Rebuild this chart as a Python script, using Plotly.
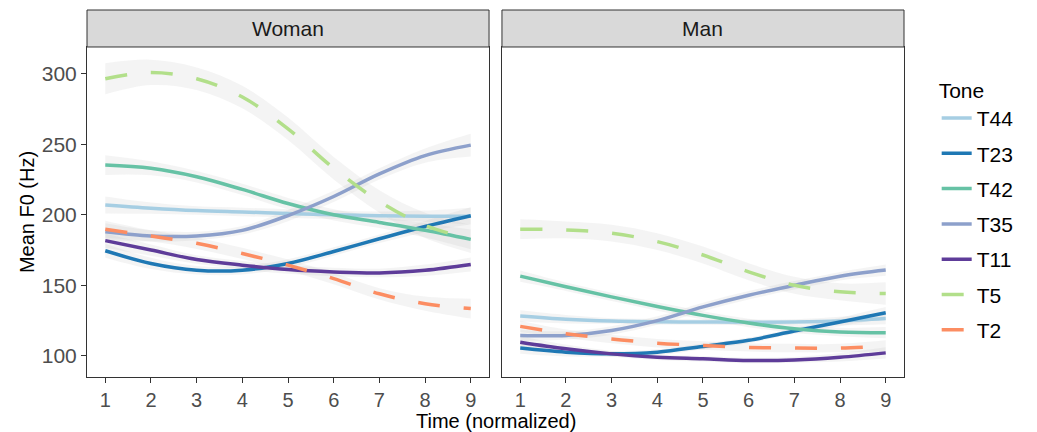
import plotly.graph_objects as go

# ---------------- data ----------------
time = [1, 2, 3, 4, 5, 6, 7, 8, 9]
tones = ["T44", "T23", "T42", "T35", "T11", "T5", "T2"]
facets = ["Woman", "Man"]
y_ticks = [100, 150, 200, 250, 300]

woman_T44 = [207, 204.7, 203, 202, 201, 200, 199.3, 199, 199]
woman_T23 = [174.5, 165.5, 160.7, 160.7, 165.5, 174, 183, 191.7, 199.3]
woman_T42 = [235.3, 233, 227, 218, 208, 200, 194.6, 189, 182.6]
woman_T35 = [188, 185, 185, 189, 199.5, 213, 229, 242, 249.4]
woman_T11 = [181.7, 175, 168.3, 164.3, 161.2, 159.5, 158.8, 160.7, 164.8]
woman_T5 = [296.5, 301, 296.5, 283.5, 261, 233, 209.5, 192.5, 183]
woman_T2 = [189.8, 185, 179.8, 172.6, 164.3, 154.8, 144, 137, 133.5]

man_T44 = [128.3, 126, 124.7, 124.2, 124, 123.8, 124, 124.7, 126.4]
man_T23 = [105.5, 102.6, 101.4, 102.6, 106.7, 111, 117.6, 124, 130.6]
man_T42 = [156.5, 149, 141.8, 135, 128.7, 123.3, 119.2, 116.9, 116.4]
man_T35 = [114.5, 114.5, 118, 125, 134.7, 143, 150, 156.5, 160.8]
man_T11 = [109.7, 105, 101.4, 99, 97.9, 96.7, 97.1, 99, 102.1]
man_T5 = [189.8, 189.3, 187, 181, 171.5, 159.6, 150, 145.4, 144.2]
man_T2 = [120.9, 115.7, 112, 109, 107.4, 106, 105.5, 105.5, 107]

# confidence half-widths (Hz)
woman_ci_T44 = [6, 4, 3, 3, 3, 3, 3, 4, 6]
woman_ci_T23 = [5, 4, 3, 3, 3, 3, 3, 4, 6]
woman_ci_T42 = [7, 5, 4, 4, 4, 4, 4, 5, 7]
woman_ci_T35 = [6, 4, 3, 3, 4, 4, 4, 5, 8]
woman_ci_T11 = [5, 4, 3, 3, 3, 3, 3, 4, 5]
woman_ci_T5 = [11, 9, 8, 8, 8, 8, 8, 9, 10]
woman_ci_T2 = [6, 4, 4, 4, 4, 4, 4, 5, 7]

man_ci_T44 = [4, 3, 2, 2, 2, 2, 2, 3, 4]
man_ci_T23 = [4, 3, 2, 2, 2, 2, 2, 3, 4]
man_ci_T42 = [4, 3, 3, 3, 3, 3, 3, 3, 4]
man_ci_T35 = [4, 3, 3, 3, 3, 3, 3, 3, 4]
man_ci_T11 = [4, 3, 2, 2, 2, 2, 2, 3, 4]
man_ci_T5 = [7, 6, 6, 6, 6, 6, 6, 6, 8]
man_ci_T2 = [4, 3, 3, 3, 3, 3, 3, 3, 4]

# ---------------- styles ----------------
colors = {"T44": "#a6cee3", "T23": "#1f78b4", "T42": "#66c2a5", "T35": "#8da0cb",
          "T11": "#5e3c99", "T5": "#b2df8a", "T2": "#fc8d62"}
dashes = {"T5": "22px,24px", "T2": "22px,24px"}

series = {
    "Woman": {"T44": (woman_T44, woman_ci_T44), "T23": (woman_T23, woman_ci_T23),
              "T42": (woman_T42, woman_ci_T42), "T35": (woman_T35, woman_ci_T35),
              "T11": (woman_T11, woman_ci_T11), "T5": (woman_T5, woman_ci_T5),
              "T2": (woman_T2, woman_ci_T2)},
    "Man": {"T44": (man_T44, man_ci_T44), "T23": (man_T23, man_ci_T23),
            "T42": (man_T42, man_ci_T42), "T35": (man_T35, man_ci_T35),
            "T11": (man_T11, man_ci_T11), "T5": (man_T5, man_ci_T5),
            "T2": (man_T2, man_ci_T2)},
}

FONT = "Liberation Sans, Arial, sans-serif"
ribbon_fill = "rgba(185,185,185,0.16)"

fig = go.Figure()
axes = {"Woman": ("x", "y"), "Man": ("x2", "y2")}

for facet in facets:
    xa, ya = axes[facet]
    for tone in tones:
        vals, ci = series[facet][tone]
        lower = [v - c for v, c in zip(vals, ci)]
        upper = [v + c for v, c in zip(vals, ci)]
        fig.add_trace(go.Scatter(x=time, y=lower, xaxis=xa, yaxis=ya, mode="lines",
                                 line=dict(width=0, shape="spline"), showlegend=False,
                                 hoverinfo="skip"))
        fig.add_trace(go.Scatter(x=time, y=upper, xaxis=xa, yaxis=ya, mode="lines",
                                 line=dict(width=0, shape="spline"), fill="tonexty",
                                 fillcolor=ribbon_fill, showlegend=False, hoverinfo="skip"))

for facet in facets:
    xa, ya = axes[facet]
    for tone in tones:
        vals, ci = series[facet][tone]
        fig.add_trace(go.Scatter(
            x=time, y=vals, xaxis=xa, yaxis=ya, mode="lines", name=tone,
            legendgroup=tone, showlegend=(facet == "Woman"),
            line=dict(color=colors[tone], width=3.5, shape="spline",
                      dash=dashes.get(tone, "solid"))))

panel_top = 0.8992
common_x = dict(range=[0.6, 9.4], tickvals=time, ticks="outside", ticklen=5,
                tickcolor="#333333", tickwidth=1, showline=True, mirror=True,
                linecolor="#333333", linewidth=1, showgrid=False, zeroline=False,
                automargin=False,
                tickfont=dict(family=FONT, size=20, color="#4d4d4d"))
common_y = dict(range=[85, 319], showline=True, mirror=True, linecolor="#333333",
                linewidth=1, showgrid=False, zeroline=False, domain=[0, panel_top],
                automargin=False)

fig.update_layout(
    width=1037, height=432,
    margin=dict(l=87, r=133, t=10, b=55, autoexpand=False),
    paper_bgcolor="white", plot_bgcolor="white",
    font=dict(family=FONT, size=20, color="#1a1a1a"),
    xaxis=dict(domain=[0, 0.4921], **common_x),
    xaxis2=dict(domain=[0.5079, 1], **common_x),
    yaxis=dict(tickvals=y_ticks, ticks="outside", ticklen=5, tickcolor="#333333",
               tickfont=dict(family=FONT, size=21, color="#4d4d4d"),
               title=dict(text="Mean F0 (Hz)", font=dict(family=FONT, size=20, color="black"),
                          standoff=1),
               **common_y),
    yaxis2=dict(anchor="x2", matches="y", showticklabels=False, ticks="", **common_y),
    legend=dict(x=1.04, xanchor="left", y=0.835, yanchor="top",
                title=dict(text="Tone", font=dict(family=FONT, size=21, color="black")),
                font=dict(family=FONT, size=21, color="black"),
                tracegroupgap=5, bgcolor="rgba(0,0,0,0)"),
    showlegend=True,
)

# strips
for facet, (x0, x1) in zip(facets, [(0, 0.4921), (0.5079, 1)]):
    fig.add_shape(type="rect", xref="paper", yref="paper", x0=x0, x1=x1,
                  y0=panel_top, y1=1.0, fillcolor="#d9d9d9",
                  line=dict(color="#333333", width=1), layer="above")
    fig.add_annotation(text=facet, xref="paper", yref="paper", x=(x0 + x1) / 2,
                       y=(panel_top + 1) / 2, showarrow=False,
                       font=dict(family=FONT, size=21, color="#1a1a1a"),
                       xanchor="center", yanchor="middle")

fig.add_annotation(text="Time (normalized)", xref="paper", yref="paper", x=0.5, y=0,
                   yshift=-44, showarrow=False, yanchor="middle",
                   font=dict(family=FONT, size=20, color="black"))

fig.write_html("out.html", config={"displayModeBar": False},
               post_script="document.body.style.margin='0';")
